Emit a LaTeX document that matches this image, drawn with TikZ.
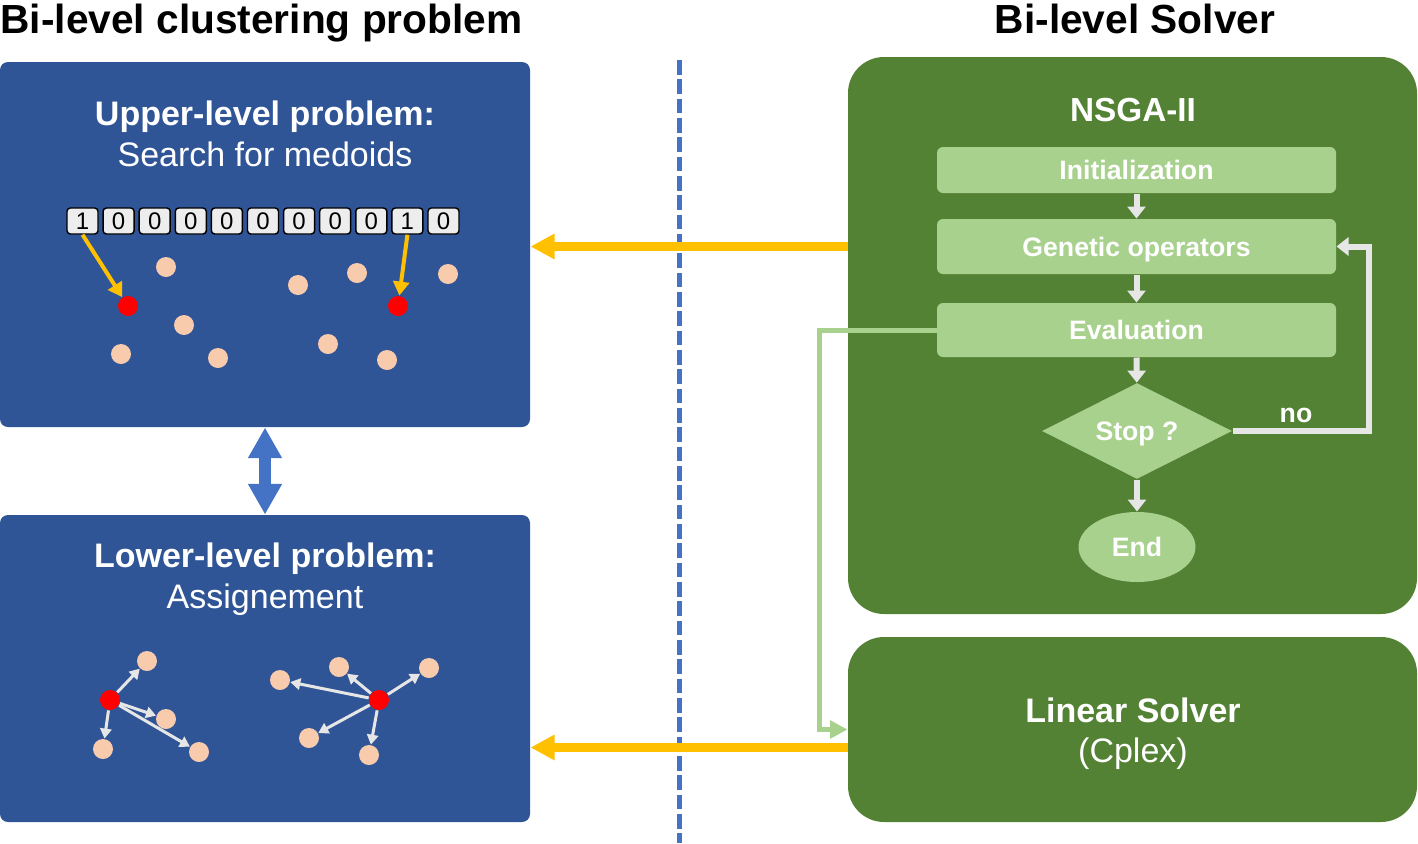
\documentclass[tikz,border=0pt]{standalone}
\usepackage{fontspec}
\setmainfont{Liberation Sans}
\usetikzlibrary{arrows.meta,shapes.geometric,calc}

\definecolor{boxblue}{HTML}{2F5597}
\definecolor{solvgreen}{HTML}{548235}
\definecolor{lightgreen}{HTML}{A9D18E}
\definecolor{medyellow}{HTML}{FFC000}
\definecolor{lineblue}{HTML}{4472C4}
\definecolor{peach}{HTML}{F8CBAD}
\definecolor{flowgray}{HTML}{E7E6E6}
\definecolor{bitgray}{HTML}{EDEDED}

\tikzset{every picture/.style={line width=0.75pt}}
\tikzset{
  probbox/.style={fill=boxblue, rounded corners=6pt, minimum width=397.5pt, inner sep=0pt},
  solvbox/.style={fill=solvgreen, rounded corners=27pt, minimum width=426.75pt, inner sep=0pt, text=white},
  flowtext/.style={text=white, text height=14.5pt, text depth=0pt, font=\fontsize{20}{24}\selectfont\bfseries},
  flowbox/.style={flowtext, fill=lightgreen, rounded corners=4.5pt, minimum width=299.25pt, inner sep=0pt},
  flowarrow/.style={draw=flowgray, line width=4.5pt, -{Triangle[width=13.5pt,length=9pt]}},
  solvearrow/.style={draw=medyellow, line width=6.75pt, -{Triangle[width=18pt,length=18pt]}},
  medarrow/.style={draw=medyellow, line width=3pt, -{Triangle[width=12pt,length=10.5pt]}},
  assignarrow/.style={draw=flowgray, line width=2.25pt, -{Triangle[width=8.5pt,length=7.5pt]}},
  bitbox/.style={draw=black, line width=1.1pt, fill=bitgray, rounded corners=2.5pt, minimum width=23.25pt, minimum height=19.5pt, inner sep=0pt, font=\fontsize{18}{18}\selectfont},
  peachdot/.style={circle, fill=peach, minimum size=15pt, inner sep=0pt},
  reddot/.style={circle, fill=red, minimum size=15pt, inner sep=0pt},
  headtext/.style={inner sep=0pt, font=\fontsize{30.5}{36}\selectfont\bfseries},
  boxtext/.style={inner sep=0pt, text=white, align=center, font=\fontsize{25.5}{31}\selectfont}
}

\begin{document}
\begin{tikzpicture}[x=0.75pt,y=0.75pt,yscale=-1]
\useasboundingbox (0,0) rectangle (1418,843);

% Titles
\node[headtext, anchor=base west] (lefttitle) at (0,33) {Bi-level clustering problem};
\node[headtext, anchor=base] (righttitle) at (1135,33) {Bi-level Solver};

%Shape: problem boxes
\node[probbox, minimum height=273.75pt] (upper) at (265,244.5) {};
\node[probbox, minimum height=230.25pt] (lower) at (265,668.5) {};

%Shape: solver boxes
\node[solvbox, minimum height=417.75pt] (nsga) at (1132.5,335.5) {};
\node[solvbox, minimum height=138.75pt] (lin) at (1132.5,729.5) {};

% Separator
\draw[draw=lineblue, line width=3.75pt, dash pattern=on 11pt off 3.5pt] (679,60) -- (679,843);

% Text Node
\node[boxtext] (uptext) at (265,134) {{\bfseries Upper-level problem:}\\Search for medoids};
% Text Node
\node[boxtext] (lowtext) at (265,579) {{\bfseries Lower-level problem:}\\Assignement};
% Text Node
\node[boxtext, font=\fontsize{25}{30}\selectfont\bfseries] (nsgatext) at (1133,110) {NSGA-II};
% Text Node
\node[boxtext, font=\fontsize{25.5}{30}\selectfont] (lintext) at (1133,733.5) {{\bfseries Linear Solver}\\(Cplex)};

% Bit string
\foreach \b [count=\i] in {1,0,0,0,0,0,0,0,0,1,0}
  \node[bitbox] (b\i) at ({82.5+36.1*(\i-1)},221) {\b};

% Upper points
\foreach \n/\x/\y in {1/166/267, 2/298/285, 3/357/273, 4/448/274, 5/184/325, 6/121/354, 7/218/358, 8/328/344, 9/387/360}
  \node[peachdot] (u\n) at (\x,\y) {};
\node[reddot] (um1) at (128,306) {};
\node[reddot] (um2) at (398,306) {};
\draw[medarrow] (b1.south) -- (um1);
\draw[medarrow] (b10.south) -- (um2);

% Lower points
\foreach \n/\x/\y in {1/147/661, 2/166/719, 3/103/749, 4/199/752, 5/280/680, 6/339/667, 7/429/668, 8/309/738, 9/369/755}
  \node[peachdot] (l\n) at (\x,\y) {};
\node[reddot] (lm1) at (110,700) {};
\node[reddot] (lm2) at (379,700) {};
\foreach \t in {1,2,3,4}
  \draw[assignarrow] (lm1) -- (l\t);
\foreach \t in {5,6,7,8,9}
  \draw[assignarrow] (lm2) -- (l\t);

% Link between levels
\draw[draw=lineblue, line width=9pt, {Triangle[width=24pt,length=23pt]}-{Triangle[width=24pt,length=23pt]}] (upper) -- (lower);

% Flowchart
\node[flowbox, minimum height=34.5pt] (init) at (1136.5,170) {Initialization};
\node[flowbox, minimum height=41.25pt] (gen) at (1136.5,246.5) {Genetic operators};
\node[flowbox, minimum height=40.5pt] (eval) at (1136.5,330) {Evaluation};
\node[flowtext, diamond, aspect=2, fill=lightgreen, minimum width=142.5pt, minimum height=72pt, inner sep=0pt] (stop) at (1137,431) {Stop ?};
\node[flowtext, ellipse, fill=lightgreen, minimum width=87.75pt, minimum height=52.5pt, inner sep=0pt] (end) at (1137,547) {End};
\node[flowtext, inner sep=0pt] (notext) at (1296,413) {no};

\draw[flowarrow] (init) -- (gen);
\draw[flowarrow] (gen) -- (eval);
\draw[flowarrow] (eval) -- (stop);
\draw[flowarrow] (stop) -- (end);
\draw[flowarrow] (stop.east) -| ($(gen.east)+(32,0)$) -- (gen.east);

% Evaluation to linear solver
\draw[draw=lightgreen, line width=3.75pt, -{Triangle[width=13pt,length=13pt]}] (eval.west) -| ($(lin.west)+(-28,0)$) -- (lin.west);

% Solver to problem
\draw[solvearrow] (gen -| nsga.west) -- (gen -| upper.east);
\coordinate (ls) at ($(lin.west)+(0,18)$);
\draw[solvearrow] (ls) -- (ls -| lower.east);

\end{tikzpicture}
\end{document}
